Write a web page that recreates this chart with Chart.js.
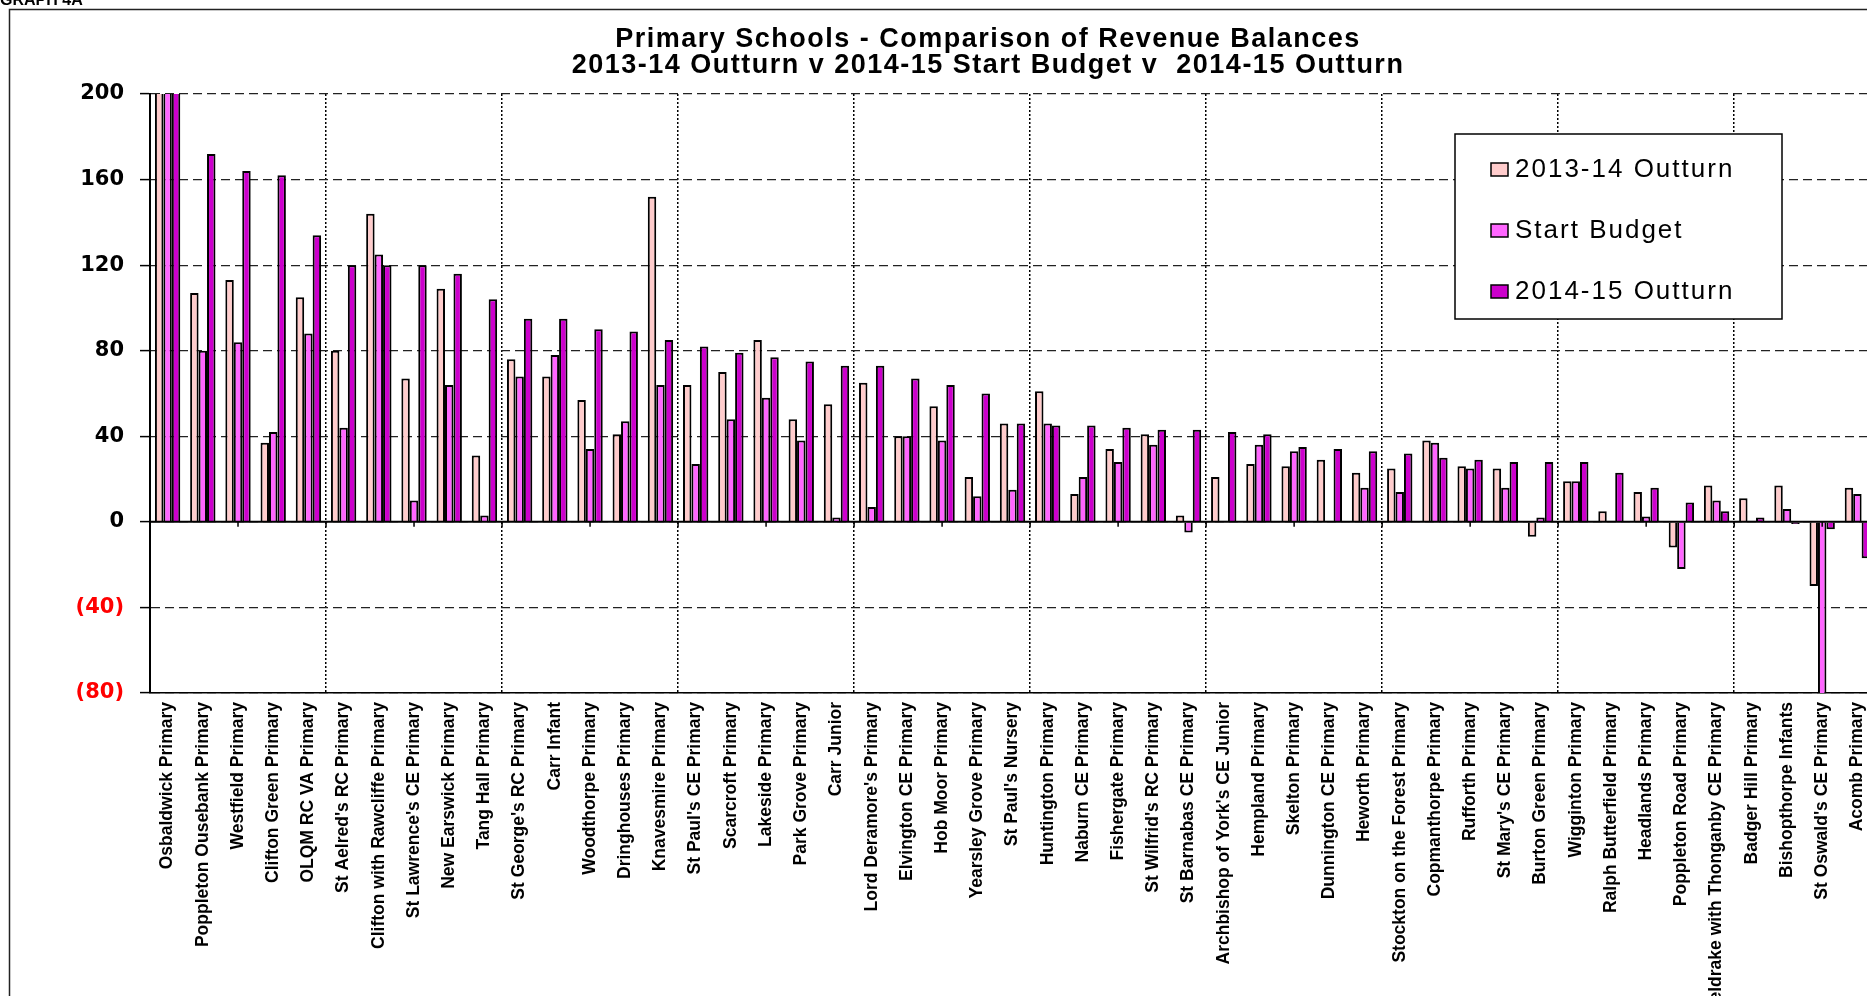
<!DOCTYPE html>
<html>
<head>
<meta charset="utf-8">
<title>Primary Schools - Comparison of Revenue Balances</title>
<script src="https://cdn.jsdelivr.net/npm/chart.js@4/dist/chart.umd.min.js"></script>
<style>
  html, body { margin: 0; padding: 0; background: #fff; overflow: hidden; }
  #chart { display: block; }
</style>
</head>
<body>
<canvas id="chart" width="1976" height="996"></canvas>
<script>
var schools = [
  "Osbaldwick Primary", "Poppleton Ousebank Primary", "Westfield Primary", "Clifton Green Primary", "OLQM RC VA Primary",
  "St Aelred's RC Primary", "Clifton with Rawcliffe Primary", "St Lawrence's CE Primary", "New Earswick Primary", "Tang Hall Primary",
  "St George's RC Primary", "Carr Infant", "Woodthorpe Primary", "Dringhouses Primary", "Knavesmire Primary",
  "St Paul's CE Primary", "Scarcroft Primary", "Lakeside Primary", "Park Grove Primary", "Carr Junior",
  "Lord Deramore's Primary", "Elvington CE Primary", "Hob Moor Primary", "Yearsley Grove Primary", "St Paul's Nursery",
  "Huntington Primary", "Naburn CE Primary", "Fishergate Primary", "St Wilfrid's RC Primary", "St Barnabas CE Primary",
  "Archbishop of York's CE Junior", "Hempland Primary", "Skelton Primary", "Dunnington CE Primary", "Heworth Primary",
  "Stockton on the Forest Primary", "Copmanthorpe Primary", "Rufforth Primary", "St Mary's CE Primary", "Burton Green Primary",
  "Wigginton Primary", "Ralph Butterfield Primary", "Headlands Primary", "Poppleton Road Primary", "Wheldrake with Thonganby CE Primary",
  "Badger Hill Primary", "Bishopthorpe Infants", "St Oswald's CE Primary", "Acomb Primary"
];

var outturn1314 = [
  250, 107, 113, 37, 105,
  80, 144, 67, 109, 31,
  76, 68, 57, 41, 152,
  64, 70, 85, 48, 55,
  65, 40, 54, 21, 46,
  61, 13, 34, 41, 3,
  21, 27, 26, 29, 23,
  25, 38, 26, 25, -7,
  19, 5, 14, -12, 17,
  11, 17, -30, 16
];

var startBudget = [
  210, 80, 84, 42, 88,
  44, 125, 10, 64, 3,
  68, 78, 34, 47, 64,
  27, 48, 58, 38, 2,
  7, 40, 38, 12, 15,
  46, 21, 28, 36, -5,
  0.5, 36, 33, 0.5, 16,
  14, 37, 25, 16, 2,
  19, 0.5, 2.5, -22, 10,
  0.5, 6, -95, 13
];

var outturn1415 = [
  235, 172, 164, 162, 134,
  120, 120, 120, 116, 104,
  95, 95, 90, 89, 85,
  82, 79, 77, 75, 73,
  73, 67, 64, 60, 46,
  45, 45, 44, 43, 43,
  42, 41, 35, 34, 33,
  32, 30, 29, 28, 28,
  28, 23, 16, 9, 5,
  2, -1, -3.5, -17
];

var seriesNames = ["2013-14 Outturn", "Start Budget", "2014-15 Outturn"];
var seriesColors = ["#FFCCCC", "#FF66FF", "#CC00CC"];
var yTicks = [-80, -40, 0, 40, 80, 120, 160, 200];
var titleLines = ["Primary Schools - Comparison of Revenue Balances", "2013-14 Outturn v 2014-15 Start Budget v  2014-15 Outturn"];

var extras = {
  id: "extras",
  afterDatasetsDraw: function (chart) {
    var ctx = chart.ctx, area = chart.chartArea;
    var xs = chart.scales.x, ys = chart.scales.y;
    var zero = ys.getPixelForValue(0);
    ctx.save();
    ctx.strokeStyle = "#000";
    ctx.lineWidth = 2;
    ctx.beginPath();
    ctx.moveTo(area.left, zero);
    ctx.lineTo(area.right, zero);
    ctx.stroke();
    ctx.lineWidth = 1.5;
    ctx.beginPath();
    for (var k = 2.5; k < schools.length; k += 2.5) {
      var px = xs.getPixelForValue(k - 0.5);
      ctx.moveTo(px, zero);
      ctx.lineTo(px, zero + 5);
    }
    ctx.stroke();
    ctx.restore();
  },
  afterDraw: function (chart) {
    var ctx = chart.ctx;
    ctx.save();

    // outer frame
    ctx.strokeStyle = "#222";
    ctx.lineWidth = 1.5;
    ctx.strokeRect(9.5, 9.5, 3000, 3000);

    ctx.fillStyle = "#000";
    ctx.font = "bold 16px 'Liberation Sans'";
    ctx.textBaseline = "alphabetic";
    ctx.textAlign = "left";
    ctx.fillText("GRAPH 4A", 0, 5);

    // title
    ctx.letterSpacing = "1.5px";
    ctx.font = "bold 27px 'Liberation Sans'";
    ctx.textAlign = "center";
    ctx.textBaseline = "middle";
    ctx.fillText(titleLines[0], 988, 40);
    ctx.fillText(titleLines[1], 988, 66);

    // legend
    var lx = 1455, ly = 134, lw = 327, lh = 185;
    ctx.letterSpacing = "0px";
    ctx.fillStyle = "#fff";
    ctx.fillRect(lx, ly, lw, lh);
    ctx.strokeStyle = "#000";
    ctx.lineWidth = 1.5;
    ctx.strokeRect(lx, ly, lw, lh);
    var rows = [169, 230, 291];
    chart.data.datasets.forEach(function (ds, i) {
      ctx.fillStyle = ds.backgroundColor;
      ctx.fillRect(1491, rows[i] - 6, 17, 13);
      ctx.strokeRect(1491, rows[i] - 6, 17, 13);
      ctx.fillStyle = "#000";
      ctx.letterSpacing = "2px";
      ctx.font = "26px 'Liberation Sans'";
      ctx.textAlign = "left";
      ctx.textBaseline = "middle";
      ctx.fillText(ds.label, 1515, rows[i] + 1);
      ctx.letterSpacing = "0px";
    });
    ctx.restore();
  }
};

var ctx = document.getElementById("chart").getContext("2d");

new Chart(ctx, {
  type: "bar",
  data: {
    labels: schools,
    datasets: [
      { label: seriesNames[0], data: outturn1314, backgroundColor: seriesColors[0] },
      { label: seriesNames[1], data: startBudget, backgroundColor: seriesColors[1] },
      { label: seriesNames[2], data: outturn1415, backgroundColor: seriesColors[2] }
    ]
  },
  options: {
    responsive: false,
    animation: false,
    devicePixelRatio: 1,
    layout: { padding: { left: 0, top: 94, right: 101, bottom: 0 } },
    datasets: {
      bar: {
        barPercentage: 1,
        categoryPercentage: 0.72,
        borderColor: "#000",
        borderWidth: 2,
        clip: 0
      }
    },
    plugins: {
      legend: { display: false },
      title: { display: false },
      tooltip: { enabled: false }
    },
    scales: {
      x: {
        afterFit: function (scale) { scale.height = 303; },
        grid: {
          offset: true,
          drawTicks: false,
          lineWidth: 1.5,
          color: function (c) {
            return (c.index % 5 === 0 && c.index > 0) ? "#000" : "rgba(0,0,0,0)";
          }
        },
        border: { display: true, color: "#000", width: 1.5, dash: [2, 2] },
        ticks: {
          autoSkip: false,
          minRotation: 90,
          maxRotation: 90,
          padding: 9,
          color: "#000",
          font: { family: "'Liberation Sans'", size: 17.5, weight: "bold" }
        }
      },
      y: {
        min: yTicks[0],
        max: yTicks[yTicks.length - 1],
        afterFit: function (scale) { scale.width = 150; },
        afterBuildTicks: function (scale) {
          scale.ticks = yTicks.map(function (v) { return { value: v }; });
        },
        grid: {
          color: "#222",
          lineWidth: 1.2,
          tickLength: 10,
          tickColor: "#000",
          tickWidth: 1.5
        },
        border: { display: true, color: "#000", width: 2, dash: [9, 5] },
        ticks: {
          padding: 16,
          font: { family: "'DejaVu Sans'", size: 21, weight: "bold" },
          color: function (c) { return c.tick.value < 0 ? "#FF0000" : "#000"; },
          callback: function (v) { return v < 0 ? "(" + (-v) + ")" : v; }
        }
      }
    }
  },
  plugins: [extras]
});
</script>
</body>
</html>
